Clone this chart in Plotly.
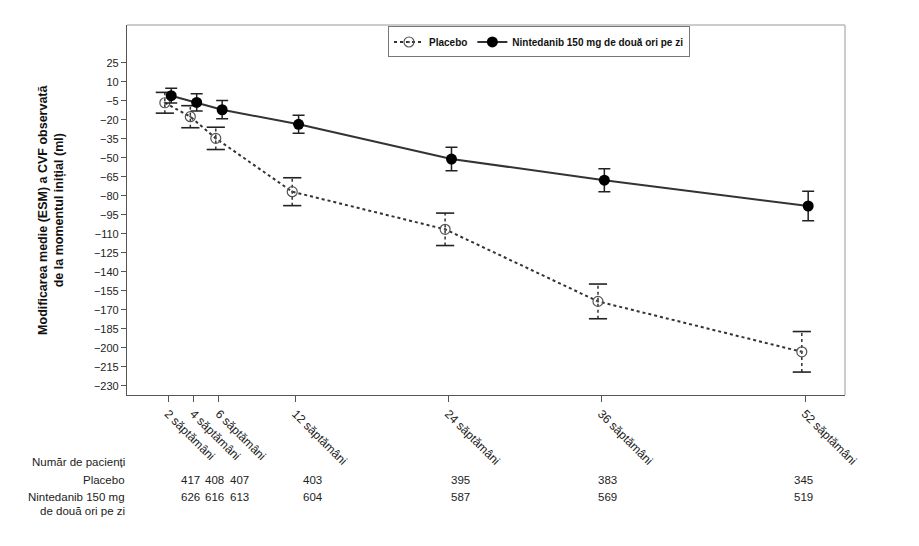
import plotly.graph_objects as go

# ---- data ----
weeks = [2, 4, 6, 12, 24, 36, 52]
week_labels = ["2 săptămâni", "4 săptămâni", "6 săptămâni", "12 săptămâni",
               "24 săptămâni", "36 săptămâni", "52 săptămâni"]
placebo_mean = [-6.6, -17.6, -34.7, -76.8, -106.5, -163.4, -203.2]
placebo_se = [8.2, 8.7, 8.8, 11.0, 12.8, 13.7, 16.0]
nint_mean = [-1.0, -6.3, -12.1, -23.6, -51.0, -67.7, -88.1]
nint_se = [5.8, 6.8, 7.2, 7.1, 9.3, 9.1, 11.6]
n_placebo = [417, 408, 407, 403, 395, 383, 345]
n_nint = [626, 616, 613, 604, 587, 569, 519]
y_ticks = list(range(25, -231, -15))

offset = 0.25
x_pl = [w - offset for w in weeks]
x_ni = [w + offset for w in weeks]

fig = go.Figure()

# placebo error bars: dotted stems + solid caps
stem_x, stem_y = [], []
for x, m, e in zip(x_pl, placebo_mean, placebo_se):
    stem_x += [x, x, None]
    stem_y += [m - e, m + e, None]
fig.add_trace(go.Scatter(x=stem_x, y=stem_y, mode="lines",
                         line=dict(color="#333", width=1.5, dash="dot"),
                         showlegend=False, hoverinfo="skip"))
fig.add_trace(go.Scatter(x=x_pl + x_pl,
                         y=[m + e for m, e in zip(placebo_mean, placebo_se)] +
                           [m - e for m, e in zip(placebo_mean, placebo_se)],
                         mode="markers",
                         marker=dict(symbol="line-ew-open", size=13, color="#222",
                                     line=dict(color="#222", width=1.6)),
                         showlegend=False, hoverinfo="skip"))

fig.add_trace(go.Scatter(
    x=x_pl, y=placebo_mean, mode="lines+markers", name="<b>Placebo</b>",
    line=dict(color="#333", width=2, dash="dot"),
    marker=dict(symbol="circle-open-dot", size=10, color="#555",
                line=dict(width=1.2, color="#555")),
))

fig.add_trace(go.Scatter(
    x=x_ni, y=nint_mean, mode="lines+markers",
    name="<b>Nintedanib 150 mg de două ori pe zi</b>",
    line=dict(color="#333", width=2),
    marker=dict(symbol="circle", size=11, color="black"),
    error_y=dict(type="data", array=nint_se, visible=True,
                 color="#222", thickness=1.5, width=6),
))

# invisible trace for the patient-count axis
fig.add_trace(go.Scatter(x=weeks, y=[None] * len(weeks), xaxis="x2",
                         showlegend=False, hoverinfo="skip"))

fig.update_layout(
    width=919, height=546,
    margin=dict(l=127, r=74, t=25, b=151),
    paper_bgcolor="white", plot_bgcolor="white",
    font=dict(family="Liberation Sans, Arial, sans-serif", color="#222"),
    showlegend=True,
    legend=dict(orientation="h", x=0.3635, xanchor="left", y=0.996,
                yanchor="top", bordercolor="#777", borderwidth=1,
                bgcolor="white",
                font=dict(size=10, color="#111",
                          family="Liberation Sans, Arial, sans-serif"),
                itemwidth=30, tracegroupgap=0),
    xaxis=dict(range=[-1.22, 55.14], tickvals=weeks, ticktext=week_labels,
               tickangle=45, ticks="outside", ticklen=6, tickcolor="#555",
               showline=True, linecolor="#555", linewidth=1.2,
               showgrid=False, zeroline=False,
               tickfont=dict(size=12, color="#222")),
    xaxis2=dict(range=[-3.13, 55.34], overlaying="x", visible=False),
    yaxis=dict(range=[-237.3, 54.8], tickvals=y_ticks,
               ticks="outside", ticklen=5, tickcolor="#555",
               showline=True, linecolor="#555", linewidth=1.2,
               showgrid=False, zeroline=False,
               tickfont=dict(size=11, color="#222")),
)

# light frame top/right
fig.add_shape(type="line", xref="paper", yref="paper", x0=0, x1=1, y0=1, y1=1,
              line=dict(color="#bbb", width=1.5))
fig.add_shape(type="line", xref="paper", yref="paper", x0=1, x1=1, y0=0, y1=1,
              line=dict(color="#bbb", width=1.5))

# y-axis title
fig.add_annotation(xref="paper", yref="paper", x=-0.106, y=0.5,
                   text="<b>Modificarea medie (ESM) a CVF observată<br>de la momentul inițial (ml)</b>",
                   textangle=-90, showarrow=False, xanchor="center", yanchor="middle",
                   font=dict(size=12.5, color="#111"))

# patient-count table
def py(px):
    return 1 - (px - 25) / 370.0

lab_font = dict(size=11.5, color="#222")
fig.add_annotation(xref="paper", yref="paper", x=0.0, y=py(462), text="Număr de pacienți",
                   showarrow=False, xanchor="right", yanchor="middle", font=lab_font)
fig.add_annotation(xref="paper", yref="paper", x=0.0, y=py(480), text="Placebo",
                   showarrow=False, xanchor="right", yanchor="middle", font=lab_font)
fig.add_annotation(xref="paper", yref="paper", x=0.0, y=py(497), text="Nintedanib 150 mg",
                   showarrow=False, xanchor="right", yanchor="middle", font=lab_font)
fig.add_annotation(xref="paper", yref="paper", x=0.0, y=py(511), text="de două ori pe zi",
                   showarrow=False, xanchor="right", yanchor="middle", font=lab_font)
for w, a, b in zip(weeks, n_placebo, n_nint):
    fig.add_annotation(xref="x2", yref="paper", x=w, y=py(480), text=str(a),
                       showarrow=False, xanchor="center", yanchor="middle", font=lab_font)
    fig.add_annotation(xref="x2", yref="paper", x=w, y=py(497), text=str(b),
                       showarrow=False, xanchor="center", yanchor="middle", font=lab_font)

fig.write_html("out.html")
